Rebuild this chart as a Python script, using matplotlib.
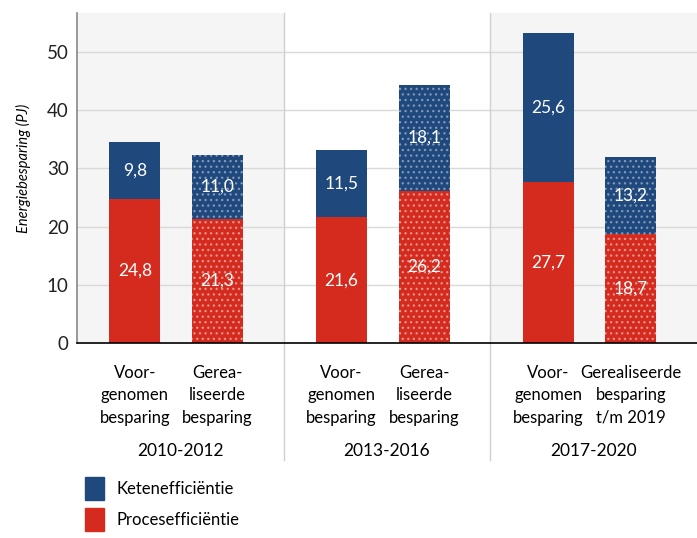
import matplotlib.pyplot as plt
from matplotlib.patches import Patch

plt.rcParams['font.family'] = ['Lato', 'DejaVu Sans']
plt.rcParams['hatch.linewidth'] = 0.9

periods = ['2010-2012', '2013-2016', '2017-2020']
bar_labels = [
    ['Voor-\ngenomen\nbesparing', 'Gerea-\nliseerde\nbesparing'],
    ['Voor-\ngenomen\nbesparing', 'Gerea-\nliseerde\nbesparing'],
    ['Voor-\ngenomen\nbesparing', 'Gerealiseerde\nbesparing\nt/m 2019'],
]
# voorgenomen / gerealiseerd per periode
proces_plan = [24.8, 21.6, 27.7]
keten_plan = [9.8, 11.5, 25.6]
proces_real = [21.3, 26.2, 18.7]
keten_real = [11.0, 18.1, 13.2]

blue = '#1f497d'
red = '#d52b1e'

fig = plt.figure(figsize=(6.97, 5.38), dpi=100)
ax = fig.add_axes([0.1105, 0.3625, 0.8895, 0.6133])

x = list(range(len(periods)))
off_plan, off_real, w = -0.22, 0.18, 0.247

for i in x:
    if i % 2 == 0:
        ax.axvspan(i - 0.5, i + 0.5, color='#f5f5f5', zorder=0)

xp = [i + off_plan for i in x]
xr = [i + off_real for i in x]
ax.bar(xp, proces_plan, w, color=red, zorder=2)
ax.bar(xp, keten_plan, w, bottom=proces_plan, color=blue, zorder=2)
ax.bar(xr, proces_real, w, color=red, zorder=2,
       hatch='...', edgecolor='#e6958f', linewidth=0)
ax.bar(xr, keten_real, w, bottom=proces_real, color=blue, zorder=2,
       hatch='...', edgecolor='#8397b8', linewidth=0)

def fmt(v):
    return f'{v:.1f}'.replace('.', ',')

for xs, low, high in [(xp, proces_plan, keten_plan), (xr, proces_real, keten_real)]:
    for xi, a, b in zip(xs, low, high):
        ax.text(xi, a / 2, fmt(a), color='white', ha='center', va='center',
                fontsize=12.5, zorder=3)
        ax.text(xi, a + b / 2, fmt(b), color='white', ha='center', va='center',
                fontsize=12.5, zorder=3)

ax.set_xlim(-0.5, 2.5)
ax.set_ylim(0, 56.7)
ax.set_yticks([0, 10, 20, 30, 40, 50])
ax.set_xticks([])
ax.yaxis.grid(True, color='#d9d9d9', linewidth=1)
ax.set_axisbelow(True)
ax.tick_params(axis='y', length=0, labelsize=13.5, pad=6, colors='#222222')
for s in ['top', 'right']:
    ax.spines[s].set_visible(False)
ax.spines['left'].set_color('#888888')
ax.spines['left'].set_linewidth(1.2)
ax.spines['bottom'].set_color('black')
ax.spines['bottom'].set_linewidth(1.2)
ax.set_ylabel('Energiebesparing (PJ)', style='italic', fontsize=10.5)
ax.yaxis.set_label_coords(-0.074, 0.53)

xt = ax.get_xaxis_transform()
for b in [0.5, 1.5]:
    ax.plot([b, b], [-0.355, 1], transform=xt, color='#d0d0d0', lw=1,
            clip_on=False, zorder=1)

for i in x:
    ax.text(xp[i], -0.066, bar_labels[i][0], transform=xt, ha='center', va='top',
            fontsize=12, linespacing=1.5)
    ax.text(xr[i], -0.066, bar_labels[i][1], transform=xt, ha='center', va='top',
            fontsize=12, linespacing=1.5)
    ax.text(i, -0.327, periods[i], transform=xt, ha='center', va='center',
            fontsize=12.5)

handles = [Patch(color=blue), Patch(color=red)]
fig.legend(handles, ['Ketenefficiëntie', 'Procesefficiëntie'], loc='upper left',
           bbox_to_anchor=(0.122, 0.113), bbox_transform=fig.transFigure,
           frameon=False, fontsize=12, handlelength=1.15, handleheight=1.7,
           handletextpad=0.75, labelspacing=0.5, borderaxespad=0, borderpad=0)

fig.savefig('out.png', dpi=100)
